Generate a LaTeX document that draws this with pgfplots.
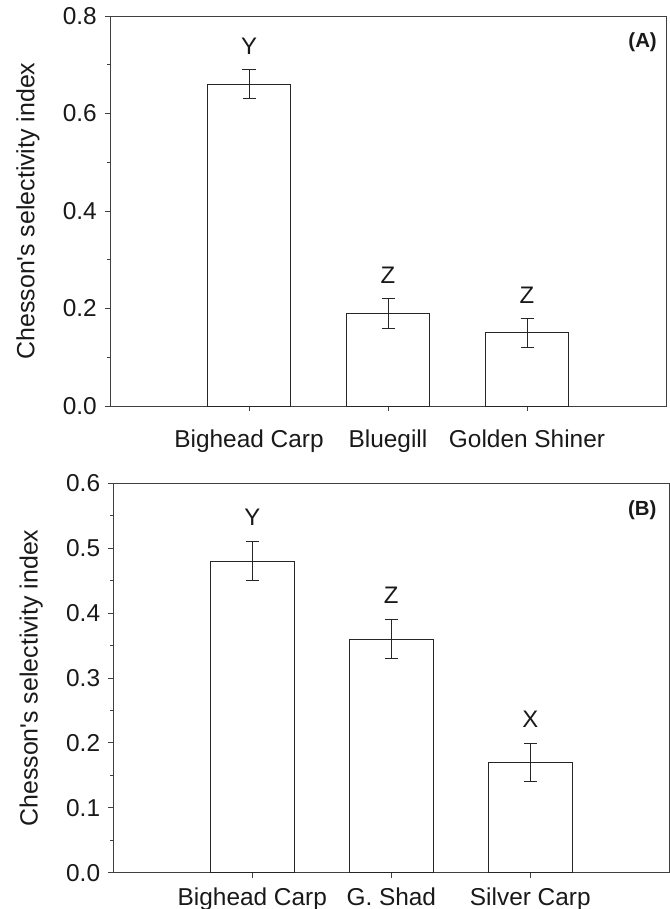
\documentclass[border=0pt]{standalone}
\usepackage{fontspec}
\setmainfont{Liberation Sans}[Ligatures=TeXOff]
\usepackage{pgfplots}
\pgfplotsset{compat=1.18}
\usepackage{pgfplotstable}

\pgfplotstableread{
x y e lab
1 0.66 0.03 Y
2 0.19 0.03 Z
3 0.15 0.03 Z
}\dataA
\pgfplotstableread{
x y e lab
1 0.48 0.03 Y
2 0.36 0.03 Z
3 0.17 0.03 X
}\dataB

\pgfplotsset{
  myax/.style={
    scale only axis, width=556bp, xmin=0, xmax=4, ymin=0,
    clip=false,
    xtick={1,2,3}, tick align=outside, xtick pos=bottom, ytick pos=left,
    minor y tick num=1,
    major tick length=5bp, minor tick length=3bp,
    axis line style={black!75, line width=0.9bp},
    tick style={black!75, line width=0.9bp},
    tick label style={font=\fontsize{24.5}{28}\selectfont, text=black!90},
    yticklabel style={inner sep=0pt, /pgf/number format/.cd, fixed, fixed zerofill, precision=1, assume math mode=true},
    yticklabel shift=8bp,
    xticklabel style={inner sep=0pt, anchor=north},
    ylabel={Chesson's selectivity index},
    ylabel style={font=\fontsize{25}{30}\selectfont, text=black!90, at={(axis description cs:-0.1475,0.5)}, anchor=center},
  },
  mybar/.style={
    ybar, bar width=0.6, fill=white, draw=black!85, line width=1bp,
    nodes near coords, point meta=explicit symbolic,
    every node near coord/.append style={font=\fontsize{24}{28}\selectfont, text=black!90, anchor=center, inner sep=0pt},
    error bars/y dir=both, error bars/y explicit,
    error bars/error bar style={line width=0.8bp, black!85},
    error bars/error mark options={rotate=90, mark size=6.5bp, line width=0.8bp, black!85},
  },
}

\begin{document}
\begin{tikzpicture}
\useasboundingbox (0,0) rectangle (670bp,-909bp);
\begin{axis}[myax,
  at={(110bp,-406bp)}, anchor=south west,
  height=390bp, ymax=0.8,
  ytick={0,0.2,0.4,0.6,0.8},
  xticklabels={Bighead Carp, Bluegill, Golden Shiner},
  xticklabel shift=19bp,
]
\addplot[mybar, every node near coord/.append style={yshift=38bp}]
  table[x=x, y=y, y error=e, meta=lab] {\dataA};
\node[anchor=north east, inner sep=0pt, font=\bfseries\fontsize{20.5}{22}\selectfont, text=black!90, xshift=-9bp, yshift=-16bp] at (rel axis cs:1,1) {(A)};
\end{axis}

\begin{axis}[myax,
  at={(113.3bp,-872.7bp)}, anchor=south west,
  height=389.4bp, ymax=0.6,
  ytick={0,0.1,0.2,0.3,0.4,0.5,0.6},
  xticklabels={Bighead Carp, G. Shad, Silver Carp},
  xticklabel shift=10bp,
]
\addplot[mybar, every node near coord/.append style={yshift=43.5bp}]
  table[x=x, y=y, y error=e, meta=lab] {\dataB};
\node[anchor=north east, inner sep=0pt, font=\bfseries\fontsize{20.5}{22}\selectfont, text=black!90, xshift=-12.6bp, yshift=-17bp] at (rel axis cs:1,1) {(B)};
\end{axis}
\end{tikzpicture}
\end{document}
